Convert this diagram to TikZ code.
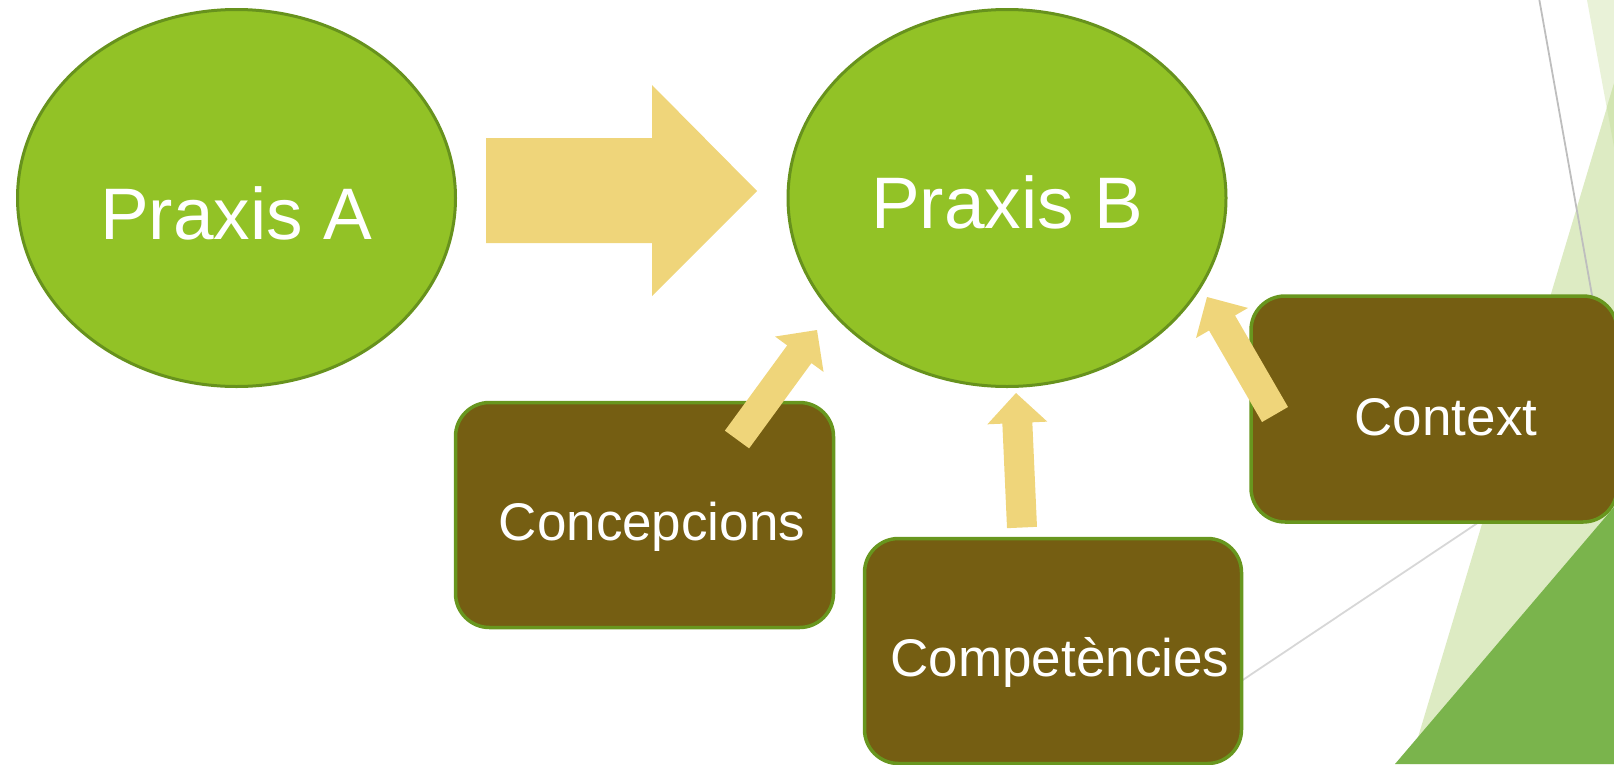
\documentclass[tikz,border=0pt]{standalone}
\usepackage{fontspec}
\setmainfont{Liberation Sans}
\usetikzlibrary{calc,shapes.geometric}
\definecolor{ellfill}{RGB}{146,194,38}
\definecolor{ellborder}{RGB}{103,146,29}
\definecolor{boxfill}{RGB}{117,94,18}
\definecolor{boxborder}{RGB}{104,150,30}
\definecolor{arrowc}{RGB}{239,213,122}
\definecolor{palegreen}{RGB}{233,242,216}
\definecolor{lightgreen}{RGB}{221,235,195}
\definecolor{overlapgreen}{RGB}{210,229,178}
\definecolor{darkgreen}{RGB}{122,180,76}
\definecolor{greyline}{RGB}{190,190,190}
\definecolor{greyline2}{RGB}{215,215,215}
\tikzset{
  ell/.style={ellipse, draw=ellborder, fill=ellfill, line width=3pt,
    minimum width=438pt, minimum height=377pt, inner sep=0pt},
  box/.style={rectangle, rounded corners=34pt, draw=boxborder, fill=boxfill,
    line width=3.5pt, inner sep=0pt},
  bigtext/.style={text=white, inner sep=0pt, font=\fontsize{73}{80}\selectfont},
  smalltext/.style={text=white, inner sep=0pt, font=\fontsize{53}{60}\selectfont},
  arrowfill/.style={fill=arrowc},
}
\newcommand\blockarrow[2]{%
  \coordinate (#1hb) at ($(#2)!30pt!(#1)$);
  \fill[arrowfill] ($(#1)!15pt!90:(#2)$) -- ($(#1hb)!15pt!90:(#2)$)
    -- ($(#1hb)!30pt!90:(#2)$) -- (#2) -- ($(#1hb)!30pt!-90:(#2)$)
    -- ($(#1hb)!15pt!-90:(#2)$) -- ($(#1)!15pt!-90:(#2)$) -- cycle;}
\begin{document}
\begin{tikzpicture}[x=1pt,y=-1pt]
\useasboundingbox (0,0) rectangle (1614,764);
\begin{scope}
\clip (0,0) rectangle (1614,764);
% background decoration
\fill[palegreen] (1587,0) -- (1620,0) -- (1620,180) -- cycle;
\fill[lightgreen] (1616,77) -- (1410,764) -- (1620,764) -- (1620,77) -- cycle;
\fill[overlapgreen] (1606.8,107.4) -- (1615,80) -- (1620,80) -- (1620,180) -- cycle;
\fill[darkgreen] (1620,500) -- (1620,764) -- (1395,764) -- cycle;
\draw[greyline, line width=1.8pt] (1539,-2) -- (1600,340);
\draw[greyline2, line width=1.8pt] (1150,742) -- (1500,508);
% ellipses
\node[ell] (pa) at (236.5,198) {};
\node[ell] (pb) at (1007,198) {};
% boxes
\node[box, minimum width=378pt, minimum height=225pt] (conc) at (644.5,515) {};
\node[box, minimum width=377pt, minimum height=225pt] (comp) at (1053,651) {};
\node[box, minimum width=366pt, minimum height=226pt] (ctx) at (1434,409) {};
% labels
\node[bigtext, anchor=base] (paT) at (236,239) {Praxis A};
\node[bigtext, anchor=base] (pbT) at (1007,228.5) {Praxis B};
\node[smalltext, anchor=base] (concT) at (652,540) {Concepcions};
\node[smalltext, anchor=base] (compT) at (1060,676) {Competències};
\node[smalltext, anchor=base] (ctxT) at (1446,435.5) {Context};
% big arrow
\coordinate (bigtail) at (486,190.5);
\coordinate (bigtip) at (757,191);
\fill[arrowfill] (bigtail |- 0,138) -- (652,138) -- (652,85) -- (bigtip)
  -- (652,296) -- (652,243) -- (bigtail |- 0,243) -- cycle;
% small arrows
\coordinate (aone) at (737,439.5);
\coordinate (aonep) at (817,330);
\blockarrow{aone}{aonep}
\coordinate (atwo) at (1275,414.5);
\coordinate (atwop) at (1207,297);
\blockarrow{atwo}{atwop}
\coordinate (athree) at (1022,527.5);
\coordinate (athreep) at (1016,393);
\blockarrow{athree}{athreep}
\end{scope}
\end{tikzpicture}
\end{document}
